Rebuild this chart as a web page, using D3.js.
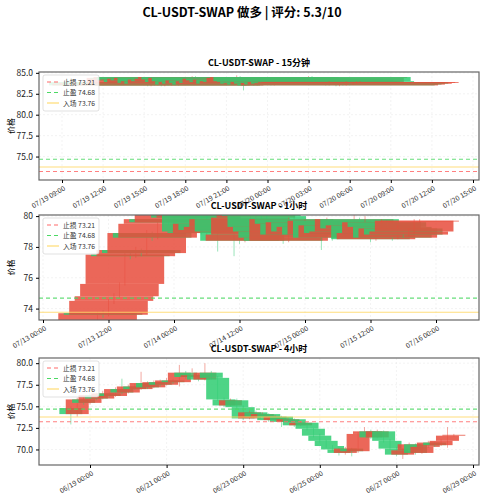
<!DOCTYPE html>
<html><head><meta charset="utf-8">
<script src="https://cdnjs.cloudflare.com/ajax/libs/d3/7.8.5/d3.min.js"></script>
<style>body{margin:0;background:#fff}text{font-family:"Noto Sans CJK SC","DejaVu Sans",sans-serif}</style>
</head><body><svg id="chart" width="484" height="500"></svg>
<script>
// levels
var stopLoss = 73.21, takeProfit = 74.68, entry = 73.76;

// 15m candles (start 07/19 15:15)
var open15 = 83.9;
var close15 = [83.5,83.7,83.6,83.8,83.5,83.7,83.6,83.9,83.6,83.8,83.7,84.4,84.3,84.5,84.1,84.2,83.9,84.3,84.1,84.4,83.8,84.0,83.7,84.2,84.0,84.3,84.5,84.2,83.9,84.4,84.0,83.6,83.9,83.7,84.1,83.8,83.6,84.0,83.8,84.3,84.1,83.9,84.2,83.7,84.0,83.9,84.4,84.5,84.0,83.9,83.7,83.8,83.6,83.9,83.7,83.5,83.8,83.6,83.9,83.7,83.8,83.9,83.9];
var high15 = [84.0,83.8,83.8,83.9,83.9,83.8,83.8,84.0,84.0,83.9,83.9,84.5,84.5,84.6,84.6,84.3,84.3,84.4,84.4,84.5,84.5,84.1,84.1,84.3,84.3,84.4,84.7,84.6,84.3,84.5,84.5,84.1,84.0,84.0,84.2,84.2,83.9,84.1,84.1,84.4,84.4,84.2,84.3,84.3,84.1,84.1,84.5,84.6,84.6,84.1,84.0,83.9,83.9,84.0,84.0,83.8,83.9,83.9,84.0,84.0,83.9,84.0,84.0];
var low15 = [83.4,83.4,83.5,83.5,83.4,83.4,83.5,83.5,83.5,83.5,83.6,83.6,84.2,84.2,84.0,84.0,83.8,83.8,84.0,84.0,83.7,83.7,83.6,83.6,83.9,83.9,84.2,84.1,82.9,83.8,83.9,83.5,83.5,83.6,83.6,83.7,83.5,83.5,83.7,83.7,84.0,83.8,83.8,83.6,83.6,83.8,83.8,84.3,83.9,83.8,83.6,83.6,83.5,83.5,83.6,83.4,83.4,83.5,83.5,83.6,83.6,83.7,83.8];

// 1h candles (start 07/13 10:00)
var open1 = 73.2;
var close1 = [73.7,73.6,74.5,74.8,75.6,77.5,77.4,77.8,77.6,78.9,78.6,79.5,79.8,79.6,80.4,80.2,80.4,79.9,80.3,79.0,78.9,79.5,79.1,79.3,79.8,79.0,78.4,78.8,79.9,80.3,80.0,79.3,79.0,78.6,78.4,79.8,79.5,78.8,79.6,79.0,79.3,78.8,79.7,78.6,79.4,78.9,79.0,79.8,79.2,79.4,78.5,78.9,79.6,79.3,78.6,79.2,78.8,79.0,79.7,79.7];
var high1 = [73.8,73.9,74.6,75.0,75.7,77.6,77.7,78.0,77.9,79.1,79.0,79.7,80.0,80.0,80.5,80.6,80.6,80.5,80.5,80.4,80.6,79.7,79.6,79.5,80.0,79.9,79.1,79.0,80.1,80.5,80.4,80.1,79.4,79.1,78.7,79.9,80.1,79.6,79.8,79.7,79.5,79.4,79.9,79.8,79.6,79.5,79.2,80.1,79.9,80.0,79.5,79.1,79.8,79.7,79.4,79.4,79.3,79.2,79.8,79.8];
var low1 = [73.2,73.4,73.5,74.3,74.7,75.5,77.2,77.3,77.4,77.5,78.4,78.5,79.3,79.4,79.5,80.0,80.1,79.7,79.8,78.8,78.7,78.8,77.7,79.0,79.2,77.4,78.2,78.3,78.7,79.8,79.8,79.1,78.8,78.4,78.2,78.3,79.3,78.6,78.7,78.8,78.9,77.8,78.7,78.4,78.5,78.7,78.8,78.9,79.0,79.1,78.3,78.4,78.8,79.1,78.4,78.5,78.6,78.7,78.9,79.6];

// 4h candles (start 06/18 12:00)
var open4 = 74.8;
var close4 = [74.1,75.8,75.4,76.3,75.9,76.5,76.2,77.0,76.6,77.3,77.0,77.7,77.2,77.8,77.5,78.0,77.8,78.9,78.4,78.6,78.1,78.9,78.3,75.8,75.1,75.7,74.9,73.6,74.3,73.8,74.1,73.4,73.8,73.2,73.5,72.8,73.1,72.4,71.6,71.0,70.4,70.0,69.6,70.1,69.8,71.8,72.1,71.4,72.1,71.0,70.1,69.4,69.9,70.6,69.6,70.3,70.8,70.5,71.0,71.6,71.7];
var high4 = [75.0,76.0,76.1,76.5,76.6,76.8,76.7,77.2,78.2,77.5,77.6,79.0,77.9,78.0,78.1,78.3,78.2,79.8,79.1,79.4,78.8,80.0,79.1,78.5,76.0,75.9,75.9,75.1,74.5,74.5,74.3,74.2,74.0,73.9,73.7,73.6,73.3,73.2,72.5,71.8,71.1,70.5,70.2,70.3,70.2,72.0,72.6,72.3,72.3,72.2,71.2,70.3,70.1,70.8,70.7,70.5,71.0,70.9,71.2,72.6,71.8];
var low4 = [72.9,73.8,75.2,75.2,75.7,75.8,76.0,76.1,76.4,76.5,76.9,76.9,77.0,77.1,77.3,77.4,77.6,77.3,78.2,78.3,77.9,78.0,78.1,75.6,74.9,75.0,74.7,73.4,73.5,73.6,73.7,73.2,73.3,72.6,73.1,72.6,72.7,72.2,71.4,70.8,70.2,69.8,69.3,69.4,69.2,69.6,71.6,71.2,71.3,70.8,69.9,69.2,68.9,69.8,69.4,69.5,70.2,70.3,70.4,70.2,71.5];

var panels = [
  {title: "CL-USDT-SWAP - 15分钟", start: new Date(2024,6,19,15,15), stepMin: 15, open: open15, close: close15, high: high15, low: low15,
   top: 72, bottom: 180, yDom: [72.2, 85.1], yTicks: [75,77.5,80,82.5,85], yFmt: d3.format(".1f"),
   x0: new Date(2024,6,19,9), x0px: 62, x1: new Date(2024,6,20,15), x1px: 473, tickHours: 3},
  {title: "CL-USDT-SWAP - 1小时", start: new Date(2024,6,13,10), stepMin: 60, open: open1, close: close1, high: high1, low: low1,
   top: 215, bottom: 320, yDom: [73.26, 80.07], yTicks: [74,76,78,80], yFmt: d3.format("d"),
   x0: new Date(2024,6,13,0), x0px: 43, x1: new Date(2024,6,16,0), x1px: 436, tickHours: 12},
  {title: "CL-USDT-SWAP - 4小时", start: new Date(2024,5,18,12), stepMin: 240, open: open4, close: close4, high: high4, low: low4,
   top: 358, bottom: 465, yDom: [68.2, 80.6], yTicks: [70,72.5,75,77.5,80], yFmt: d3.format(".1f"),
   x0: new Date(2024,5,19,0), x0px: 90, x1: new Date(2024,5,29,0), x1px: 473, tickHours: 48}
];

var svg = d3.select("#chart");
var L = 39, R = 479;
var up = "#e74c3c", down = "#2ecc71";

svg.append("text").attr("x", 242).attr("y", 17).attr("text-anchor", "middle")
  .attr("font-size", 12.5).attr("font-weight", "bold").text("CL-USDT-SWAP 做多 | 评分: 5.3/10");

panels.forEach(function (p) {
  var x = d3.scaleTime().domain([p.x0, p.x1]).range([p.x0px, p.x1px]);
  var y = d3.scaleLinear().domain(p.yDom).range([p.bottom, p.top]);
  var g = svg.append("g");
  var clipId = "clip" + p.stepMin;
  g.append("clipPath").attr("id", clipId).append("rect")
    .attr("x", L).attr("y", p.top).attr("width", R - L).attr("height", p.bottom - p.top);

  // grid
  var t0 = x.invert(L), t1 = x.invert(R);
  var xt = d3.timeHour.every(p.tickHours).range(t0, t1).filter(function (d) {
    return ((d - p.x0) / 3600000) % p.tickHours === 0;
  });
  g.selectAll(".gx").data(xt).enter().append("line")
    .attr("x1", x).attr("x2", x).attr("y1", p.top).attr("y2", p.bottom)
    .attr("stroke", "#e6e6e6").attr("stroke-dasharray", "2,2").attr("stroke-width", 0.5);
  g.selectAll(".gy").data(p.yTicks).enter().append("line")
    .attr("x1", L).attr("x2", R).attr("y1", y).attr("y2", y)
    .attr("stroke", "#e6e6e6").attr("stroke-dasharray", "2,2").attr("stroke-width", 0.5);

  var candles = p.close.map(function (c, i) {
    return {t: new Date(p.start.getTime() + i * p.stepMin * 60000),
            o: i ? p.close[i - 1] : p.open, c: c, h: p.high[i], l: p.low[i]};
  });
  var halfW = (x(new Date(p.x0.getTime() + 0.3 * 86400000)) - x(p.x0));
  var cg = g.append("g").attr("clip-path", "url(#" + clipId + ")");
  candles.forEach(function (d) {
    var col = d.c >= d.o ? up : down;
    cg.append("line").attr("x1", x(d.t)).attr("x2", x(d.t)).attr("y1", y(d.h)).attr("y2", y(d.l))
      .attr("stroke", col).attr("stroke-width", 0.8).attr("opacity", 0.6);
    cg.append("rect").attr("x", x(d.t) - halfW).attr("width", 2 * halfW)
      .attr("y", y(Math.max(d.o, d.c))).attr("height", Math.max(0.8, Math.abs(y(d.o) - y(d.c))))
      .attr("fill", col).attr("opacity", 0.85);
  });

  var levels = [
    {v: stopLoss, c: "#ff6b6b", dash: "4,3", label: "止损 73.21"},
    {v: takeProfit, c: "#4cd964", dash: "4,3", label: "止盈 74.68"},
    {v: entry, c: "#ffd966", dash: null, label: "入场 73.76"}
  ];
  levels.forEach(function (lv) {
    if (lv.v < p.yDom[0]) return;
    g.append("line").attr("x1", L).attr("x2", R).attr("y1", y(lv.v)).attr("y2", y(lv.v))
      .attr("stroke", lv.c).attr("stroke-width", 1.1).attr("opacity", 0.85)
      .attr("stroke-dasharray", lv.dash);
  });

  // frame
  g.append("rect").attr("x", L).attr("y", p.top).attr("width", R - L).attr("height", p.bottom - p.top)
    .attr("fill", "none").attr("stroke", "#666").attr("stroke-width", 1.2);

  // legend
  var lg = g.append("g").attr("transform", "translate(" + (L + 4) + "," + (p.top + 3) + ")");
  lg.append("rect").attr("width", 56).attr("height", 36).attr("rx", 2)
    .attr("fill", "#fff").attr("fill-opacity", 0.85).attr("stroke", "#ccc").attr("stroke-width", 0.6);
  levels.forEach(function (lv, i) {
    var yy = 7 + i * 10.5;
    lg.append("line").attr("x1", 4).attr("x2", 16).attr("y1", yy).attr("y2", yy)
      .attr("stroke", lv.c).attr("stroke-width", 1.1).attr("stroke-dasharray", lv.dash);
    lg.append("text").attr("x", 20).attr("y", yy + 2.5).attr("font-size", 6.8).attr("fill", "#333").text(lv.label);
  });

  // axes
  var ax = g.append("g").attr("transform", "translate(0," + p.bottom + ")")
    .call(d3.axisBottom(x).tickValues(xt).tickSize(3).tickFormat(d3.timeFormat("%m/%d %H:%M")));
  ax.select(".domain").remove();
  ax.selectAll("text").attr("font-size", 7).attr("fill", "#333")
    .attr("text-anchor", "end").attr("transform", "rotate(-30)").attr("dx", "-0.3em").attr("dy", "0.6em");
  var ay = g.append("g").attr("transform", "translate(" + L + ",0)")
    .call(d3.axisLeft(y).tickValues(p.yTicks).tickSize(3).tickFormat(p.yFmt));
  ay.select(".domain").remove();
  ay.selectAll("text").attr("font-size", 8.5).attr("fill", "#222");

  g.append("text").attr("transform", "translate(14," + ((p.top + p.bottom) / 2) + ") rotate(-90)")
    .attr("text-anchor", "middle").attr("font-size", 8).text("价格");
  g.append("text").attr("x", (L + R) / 2).attr("y", p.top - 6).attr("text-anchor", "middle")
    .attr("font-size", 9).attr("font-weight", "bold").text(p.title);
});
</script></body></html>
